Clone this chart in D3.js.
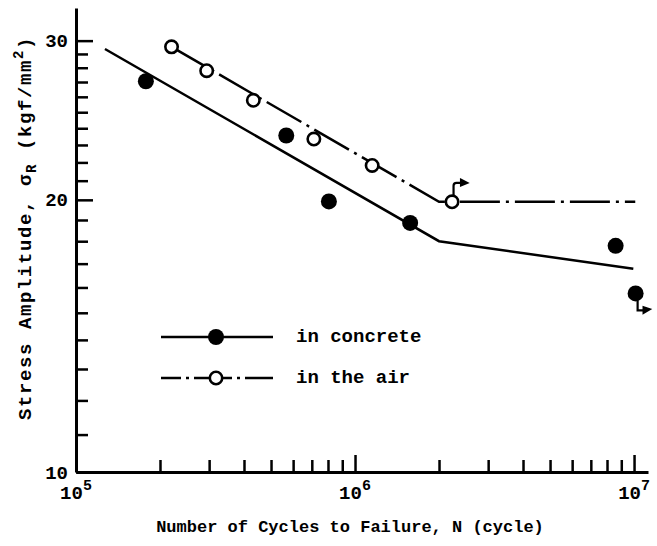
<!DOCTYPE html>
<html><head><meta charset="utf-8">
<script src="https://cdn.jsdelivr.net/npm/d3@7"></script>
<style>
body{margin:0;background:#fff}
svg{display:block}
text{font-family:"Liberation Mono","Courier New",monospace;font-weight:bold;fill:#000}
</style>
</head><body><svg id="c" width="657" height="546"></svg>
<script>
// ---- data ----
const concreteN = [1.78e5, 5.67e5, 8.06e5, 1.576e6, 8.59e6, 1.013e7];
const concreteS = [27.05, 23.56, 19.92, 18.86, 17.79, 15.76];
const airN = [2.20e5, 2.94e5, 4.32e5, 7.12e5, 1.152e6, 2.227e6];
const airS = [29.53, 27.79, 25.77, 23.35, 21.83, 19.9];
const concreteLineN = [1.27e5, 2.0e6, 9.94e6];
const concreteLineS = [29.37, 18.0, 16.78];
const airLineN = [2.20e5, 2.0e6, 1.01e7];
const airLineS = [29.53, 19.9, 19.9];
const airRunout = [5];       // index in air series
const concreteRunout = [5];  // index in concrete series
const yTicks = d3.range(10, 31);
const yMajor = [10, 20, 30];
const xTicks = [2e5,3e5,4e5,5e5,6e5,7e5,8e5,9e5,1e6,2e6,3e6,4e6,5e6,6e6,7e6,8e6,9e6,1e7];
const xMajor = [1e5, 1e6, 1e7];
const legendLabels = ["in concrete", "in the air"];
const xTitle = "Number of Cycles to Failure, N (cycle)";

// ---- scales ----
const svg = d3.select("#c");
const x = d3.scaleLog().domain([1e5, 1.122e7]).range([76, 648]);
const y = d3.scaleLog().domain([10, 32.6]).range([472, 8]);
const X0 = 76, Y0 = 472;

// ---- axes ----
const gy = svg.append("g").attr("transform", `translate(${X0},0)`)
  .call(d3.axisLeft(y).tickValues(yTicks).tickSizeInner(-12).tickSizeOuter(0).tickPadding(8)
    .tickFormat(d => yMajor.includes(d) ? d : ""));
gy.selectAll(".tick line").attr("stroke-width", 2.5)
  .attr("x2", d => yMajor.includes(d) ? 17 : 12);
gy.select(".domain").attr("stroke-width", 3);
gy.selectAll(".tick text").style("font-size", "19px");

const gx = svg.append("g").attr("transform", `translate(0,${Y0})`)
  .call(d3.axisBottom(x).tickValues(xTicks).tickSizeInner(-12).tickSizeOuter(0).tickFormat(""));
gx.selectAll(".tick line").attr("stroke-width", 2.5)
  .attr("y2", d => xMajor.includes(d) ? -17 : -12);
gx.select(".domain").attr("stroke-width", 3);
gx.selectAll(".tick text").remove();

const xl = svg.append("g").selectAll("text").data(xMajor).join("text")
  .attr("x", d => x(d)).attr("y", Y0 + 27).attr("text-anchor", "middle").style("font-size", "19px");
xl.append("tspan").text("10");
xl.append("tspan").text(d => Math.round(Math.log10(d))).attr("dy", -9).style("font-size", "15px");

// axis titles
svg.append("text").attr("x", 350).attr("y", 532).attr("text-anchor", "middle")
  .style("font-size", "17px").text(xTitle);

const yt = svg.append("text").attr("transform", "translate(31,228) rotate(-90)")
  .attr("text-anchor", "middle").style("font-size", "19px").style("letter-spacing", "1.6px");
yt.append("tspan").text("Stress Amplitude, σ");
yt.append("tspan").text("R").attr("dy", 5).style("font-size", "14px");
yt.append("tspan").text(" (kgf/mm").attr("dy", -5);
yt.append("tspan").text("2").attr("dy", -8).style("font-size", "14px");
yt.append("tspan").text(")").attr("dy", 8);

// ---- lines ----
const line = d3.line().x(d => x(d[0])).y(d => y(d[1]));
svg.append("path").datum(d3.zip(concreteLineN, concreteLineS)).attr("d", line)
  .attr("fill", "none").attr("stroke", "#000").attr("stroke-width", 2.5);
svg.append("path").datum(d3.zip(airLineN, airLineS)).attr("d", line)
  .attr("fill", "none").attr("stroke", "#000").attr("stroke-width", 2.5)
  .attr("stroke-dasharray", "40 6 3 6");

// runout arrows
const ra = svg.append("g").attr("stroke", "#000").attr("stroke-width", 2.2).attr("fill", "none");
airRunout.forEach(i => {
  const px = x(airN[i]), py = y(airS[i]);
  ra.append("path").attr("d", `M${px+1.5},${py-6} L${px+1.5},${py-16} Q${px+1.5},${py-19} ${px+4.5},${py-19} L${px+10},${py-19}`);
  ra.append("path").attr("d", `M${px+9},${py-22} L${px+15},${py-19} L${px+9},${py-16.5} Z`).attr("fill", "#000");
});
concreteRunout.forEach(i => {
  const px = x(concreteN[i]), py = y(concreteS[i]);
  ra.append("path").attr("d", `M${px+2},${py+7} L${px+2},${py+17} L${px+9},${py+17}`);
  ra.append("path").attr("d", `M${px+8},${py+14} L${px+14},${py+16} L${px+8},${py+19.5} Z`).attr("fill", "#000");
});

// ---- markers ----
svg.append("g").selectAll("circle").data(d3.zip(concreteN, concreteS)).join("circle")
  .attr("cx", d => x(d[0])).attr("cy", d => y(d[1])).attr("r", 8).attr("fill", "#000");
svg.append("g").selectAll("circle").data(d3.zip(airN, airS)).join("circle")
  .attr("cx", d => x(d[0])).attr("cy", d => y(d[1])).attr("r", 6.2)
  .attr("fill", "#fff").attr("stroke", "#000").attr("stroke-width", 2.6);

// ---- legend ----
const lg = svg.append("g");
const ly = [337, 378];
lg.append("line").attr("x1", 161).attr("x2", 273).attr("y1", ly[0]).attr("y2", ly[0])
  .attr("stroke", "#000").attr("stroke-width", 2.5);
lg.append("circle").attr("cx", 216).attr("cy", ly[0]).attr("r", 8).attr("fill", "#000");
lg.append("line").attr("x1", 161).attr("x2", 273).attr("y1", ly[1]).attr("y2", ly[1])
  .attr("stroke", "#000").attr("stroke-width", 2.5).attr("stroke-dasharray", "20 5 3 5 38 5 3 5 30");
lg.append("circle").attr("cx", 216).attr("cy", ly[1]).attr("r", 6.2)
  .attr("fill", "#fff").attr("stroke", "#000").attr("stroke-width", 2.6);
lg.selectAll("text").data(legendLabels).join("text")
  .attr("x", 296).attr("y", (d, i) => ly[i] + 5).style("font-size", "19px").text(d => d);
</script></body></html>
